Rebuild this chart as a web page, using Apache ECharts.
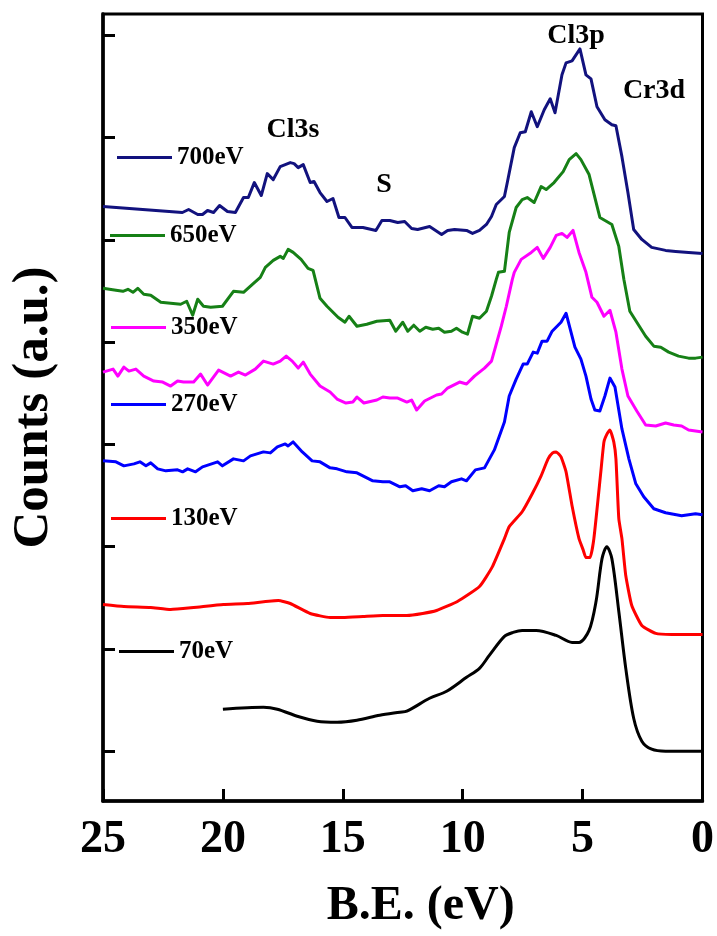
<!DOCTYPE html>
<html>
<head>
<meta charset="utf-8">
<script src="https://cdn.jsdelivr.net/npm/echarts@6/dist/echarts.min.js"></script>
<style>
html,body{margin:0;padding:0;background:#fff;}
#chart{width:717px;height:936px;}
</style>
</head>
<body>
<div id="chart"></div>
<script>
// ---- data: [binding energy (eV), counts (a.u., offset stacked)] ----
const xTicks = [0, 5, 10, 15, 20, 25];
const yTicks = [50, 152.5, 255, 357.5, 460, 562.5, 665, 767.5];
const seriesNames = ['700eV', '650eV', '350eV', '270eV', '130eV', '70eV'];
const seriesColors = ['#12127e', '#168016', '#ff00ff', '#0000ff', '#ff0000', '#000000'];

const s700 = [[25,596],[21.69,590],[21.43,593],[21.05,588],[20.85,588],[20.64,592],[20.39,590],[20.14,597],[19.81,591],[19.48,590],[19.14,605],[18.94,605],[18.69,620],[18.40,607],[18.15,629],[17.90,623],[17.61,636],[17.19,640],[17.03,639],[16.86,635],[16.65,638],[16.36,620],[16.20,621],[15.95,610],[15.66,601],[15.41,604],[15.16,585],[14.91,585],[14.62,575],[14.16,575],[13.62,572],[13.37,582],[13.04,582],[12.71,580],[12.42,581],[12.13,574],[11.88,573],[11.38,576],[10.88,568],[10.63,572],[10.34,573],[9.84,572],[9.59,569],[9.30,572],[9.01,578],[8.80,586],[8.60,598],[8.26,606],[8.14,620],[7.85,655],[7.60,670],[7.39,671],[7.14,691],[6.89,676],[6.60,693],[6.35,704],[6.15,690],[5.86,728],[5.69,740],[5.44,742],[5.11,754],[4.86,728],[4.65,724],[4.40,696],[4.07,683],[3.78,678],[3.61,677],[3.36,646],[3.11,610],[2.87,573],[2.53,563],[2.12,555],[1.54,552],[1.12,551],[0.58,550],[0,549]];

const s650 = [[25,514],[24.46,512],[24.17,511],[23.96,513],[23.75,510],[23.55,514],[23.30,508],[23.01,507],[22.59,500],[22.18,499],[21.76,498],[21.51,501],[21.26,487],[21.05,503],[20.81,496],[20.51,495],[20.02,496],[19.56,511],[19.14,510],[18.77,518],[18.44,525],[18.23,535],[17.90,542],[17.61,546],[17.48,544],[17.28,553],[17.07,550],[16.74,543],[16.45,534],[16.24,532],[15.95,504],[15.66,496],[15.20,485],[14.91,480],[14.74,486],[14.41,476],[14.00,478],[13.58,481],[13.04,482],[12.79,471],[12.50,480],[12.29,471],[12.04,477],[11.79,471],[11.54,475],[11.25,473],[11.00,474],[10.76,470],[10.47,471],[10.26,474],[10.01,470],[9.80,468],[9.59,486],[9.30,484],[9.01,491],[8.80,506],[8.60,523],[8.51,530],[8.26,531],[8.06,570],[7.77,595],[7.52,603],[7.31,605],[7.02,600],[6.73,616],[6.52,613],[6.19,620],[5.81,631],[5.56,643],[5.27,649],[5.07,643],[4.73,628],[4.28,585],[3.78,578],[3.49,556],[3.28,523],[3.03,491],[2.74,480],[2.37,466],[2.03,456],[1.74,455],[1.41,450],[1.00,446],[0.58,444],[0.29,444],[0,445]];

const s350 = [[25,430],[24.58,433],[24.38,426],[24.13,435],[23.92,431],[23.63,433],[23.30,426],[22.88,421],[22.51,420],[22.18,416],[21.89,421],[21.64,420],[21.22,420],[20.93,428],[20.64,417],[20.18,432],[19.68,426],[19.35,430],[19.06,427],[18.65,433],[18.31,441],[17.90,438],[17.61,441],[17.36,446],[17.11,441],[16.86,434],[16.65,440],[16.36,428],[15.95,416],[15.53,410],[15.24,403],[14.87,399],[14.58,400],[14.41,405],[14.12,399],[13.58,402],[13.33,405],[13.04,404],[12.71,404],[12.33,400],[12.13,402],[11.92,392],[11.59,401],[11.09,407],[10.88,408],[10.63,414],[10.13,420],[9.84,418],[9.51,426],[9.09,434],[8.80,441],[8.60,458],[8.39,476],[8.18,496],[7.93,523],[7.85,530],[7.56,543],[7.14,550],[6.89,555],[6.64,544],[6.35,555],[6.10,567],[5.86,569],[5.65,565],[5.40,572],[5.15,550],[4.86,530],[4.61,505],[4.40,500],[4.11,486],[3.86,492],[3.61,470],[3.36,433],[3.11,406],[2.74,391],[2.37,377],[1.95,376],[1.54,379],[1.20,377],[0.87,376],[0.58,372],[0,370]];

const s270 = [[25,341],[24.46,340],[24.13,336],[23.71,338],[23.46,340],[23.21,336],[23.01,339],[22.72,333],[22.38,331],[21.89,332],[21.68,330],[21.47,333],[21.14,330],[20.85,335],[20.22,340],[20.02,336],[19.56,343],[19.14,341],[18.85,346],[18.31,350],[18.02,349],[17.73,355],[17.40,358],[17.28,356],[17.07,360],[16.69,350],[16.28,341],[15.95,340],[15.53,334],[15.24,333],[14.83,330],[14.41,329],[13.75,321],[13.33,320],[13.04,320],[12.62,315],[12.38,316],[12.08,311],[11.71,313],[11.38,311],[11.00,316],[10.76,315],[10.47,320],[10.05,323],[9.84,321],[9.47,332],[9.09,334],[8.68,352],[8.26,380],[8.06,406],[7.77,423],[7.48,438],[7.31,438],[7.06,450],[6.89,449],[6.69,461],[6.48,461],[6.27,471],[5.90,480],[5.69,489],[5.32,455],[5.07,443],[4.86,426],[4.65,403],[4.49,392],[4.28,391],[4.07,406],[3.86,424],[3.65,415],[3.36,373],[3.07,343],[2.78,318],[2.45,305],[2.03,293],[1.54,289],[0.87,286],[0.29,288],[0,287]];

const s130 = [[25,197],[24.13,195],[23.01,194],[22.18,192],[21.22,194],[19.98,197],[18.98,198],[17.69,201],[17.19,198],[16.36,188],[15.53,184],[14.99,184],[14.16,185],[13.33,186],[12.33,186],[11.67,188],[11.09,191],[10.22,200],[9.30,215],[8.76,235],[8.26,263],[8.06,275],[7.52,290],[7.10,308],[6.73,326],[6.44,343],[6.25,349],[6.10,350],[5.90,345],[5.69,330],[5.44,296],[5.15,263],[4.98,252],[4.86,244],[4.69,244],[4.53,263],[4.24,330],[4.11,360],[3.98,368],[3.86,372],[3.70,360],[3.61,343],[3.49,283],[3.36,263],[3.20,226],[2.95,196],[2.53,176],[1.95,168],[1.29,167],[0,167]];

const s70 = [[20,92],[18.31,94],[17.73,92],[16.90,85],[16.07,80],[15.24,79],[14.41,81],[13.46,86],[12.62,89],[12.33,90],[11.38,103],[10.67,110],[9.84,124],[9.30,133],[8.89,146],[8.26,165],[7.90,169],[7.52,171],[6.94,171],[6.10,166],[5.44,159],[5.15,159],[4.73,171],[4.44,200],[4.19,243],[3.99,255],[3.78,243],[3.49,190],[3.20,133],[2.87,83],[2.53,60],[2.12,52],[1.54,50],[0,50]];

const seriesData = [s700, s650, s350, s270, s130, s70];
const smoothFlags = [false, false, false, false, 0.15, 0.3];

// annotation labels
const annText = ['Cl3s', 'S', 'Cl3p', 'Cr3d'];
const annPos = [[293, 130], [384, 185], [576, 36], [654, 91]];

// inline legend placement [left px, center y px]
const legendPos = [[117, 157], [110, 235], [111, 327], [111, 404], [111, 518], [119, 651]];

const serif = '"Liberation Serif", "Times New Roman", "DejaVu Serif", serif';
const chart = echarts.init(document.getElementById('chart'), null, {renderer: 'canvas'});

const series = seriesNames.map((n, i) => ({
  name: n,
  type: 'line',
  data: seriesData[i],
  showSymbol: false,
  symbol: 'none',
  smooth: smoothFlags[i],
  color: seriesColors[i],
  lineStyle: {width: 3, color: seriesColors[i], join: 'round'},
  z: 3,
  animation: false
}));

const legends = seriesNames.map((n, i) => ({
  data: [n],
  left: legendPos[i][0],
  top: legendPos[i][1] - 12,
  padding: 0,
  icon: 'rect',
  itemWidth: 55,
  itemHeight: 3,
  itemGap: 0,
  selectedMode: false,
  textStyle: {fontFamily: serif, fontWeight: 'bold', fontSize: 25, color: '#000', lineHeight: 24}
}));

const graphics = annText.map((t, i) => ({
  type: 'text',
  x: annPos[i][0],
  y: annPos[i][1],
  style: {text: t, fontFamily: serif, fontWeight: 'bold', fontSize: 28, fill: '#000', align: 'center', verticalAlign: 'middle'},
  z: 10
}));

chart.setOption({
  animation: false,
  backgroundColor: '#fff',
  grid: {left: 102, right: 13, top: 14, bottom: 133, show: true, borderColor: '#000', borderWidth: 3, containLabel: false},
  legend: legends,
  xAxis: {
    type: 'value', min: 0, max: 25, interval: 5, inverse: true,
    name: 'B.E. (eV)', nameLocation: 'middle', nameGap: 82,
    nameTextStyle: {fontFamily: serif, fontWeight: 'bold', fontSize: 48, color: '#000', padding: [0, 0, 0, 36]},
    axisLine: {show: true, onZero: false, lineStyle: {color: '#000', width: 3.5}},
    axisTick: {show: true, inside: true, length: 12, lineStyle: {color: '#000', width: 3}},
    axisLabel: {show: true, margin: 16, fontFamily: serif, fontWeight: 'bold', fontSize: 46, color: '#000',
      customValues: xTicks},
    splitLine: {show: false}
  },
  yAxis: {
    type: 'value', min: 0, max: 789, position: 'left',
    name: 'Counts (a.u.)', nameLocation: 'middle', nameGap: 44, nameRotate: 90,
    nameTextStyle: {fontFamily: serif, fontWeight: 'bold', fontSize: 51, color: '#000'},
    axisLine: {show: true, onZero: false, lineStyle: {color: '#000', width: 3.5}},
    axisTick: {show: true, inside: true, length: 12, lineStyle: {color: '#000', width: 3}, customValues: yTicks},
    axisLabel: {show: false},
    splitLine: {show: false}
  },
  graphic: graphics,
  series: series
});
</script>
</body>
</html>
